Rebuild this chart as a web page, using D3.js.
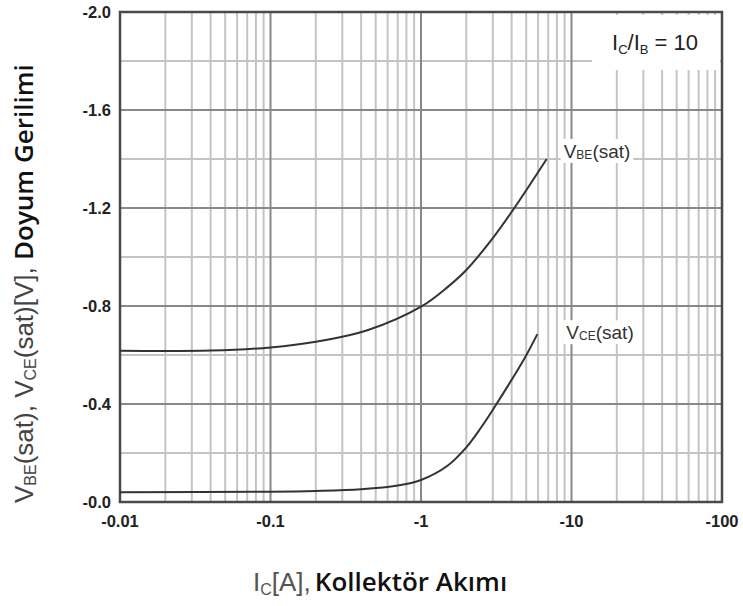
<!DOCTYPE html>
<html>
<head>
<meta charset="utf-8">
<script src="https://cdn.jsdelivr.net/npm/d3@7"></script>
<style>
  body { margin: 0; background: #fff; }
  svg { display: block; }
  .tick-label { font-family: "Liberation Sans", Arial, sans-serif; font-weight: bold; font-size: 16.5px; fill: #222; }
</style>
</head>
<body>
<svg id="chart" width="743" height="606"></svg>
<script>
// collector current Ic [A] and saturation voltages [V]
var vbeCurrent = [-0.01, -0.04, -0.1, -0.2, -0.45, -1, -1.5, -2, -3, -4.15, -6.84];
var vbeVoltage = [-0.617, -0.618, -0.631, -0.654, -0.703, -0.797, -0.877, -0.947, -1.077, -1.198, -1.4];
var vceCurrent = [-0.01, -0.1, -0.2, -0.4, -0.7, -1, -1.5, -2, -2.5, -3.1, -4.91, -5.93];
var vceVoltage = [-0.04, -0.042, -0.045, -0.052, -0.067, -0.09, -0.148, -0.223, -0.303, -0.39, -0.59, -0.685];

var xMajorTicks = [-0.01, -0.1, -1, -10, -100];
var xTickLabels = ["-0.01", "-0.1", "-1", "-10", "-100"];
var yMajorTicks = [0, -0.4, -0.8, -1.2, -1.6, -2.0];
var yTickLabels = ["-0.0", "-0.4", "-0.8", "-1.2", "-1.6", "-2.0"];
var yMinorTicks = [-0.2, -0.6, -1.0, -1.4, -1.8];

var margin = { left: 120, right: 21, top: 12, bottom: 104 };
var width = 743, height = 606;

var svg = d3.select("#chart");

var x = d3.scaleLog().domain([-0.01, -100]).range([margin.left, width - margin.right]);
var y = d3.scaleLinear().domain([0, -2]).range([height - margin.bottom, margin.top]);

// minor x gridlines: 2..9 of each decade
var xMinorTicks = [];
xMajorTicks.slice(0, -1).forEach(function (d) {
    for (var k = 2; k <= 9; k++) xMinorTicks.push(d * k);
});

var grid = svg.append("g");

grid.selectAll("line.xminor")
    .data(xMinorTicks)
    .enter().append("line")
    .attr("x1", function (d) { return x(d); })
    .attr("x2", function (d) { return x(d); })
    .attr("y1", y.range()[0])
    .attr("y2", y.range()[1])
    .attr("stroke", "#c4c4c4")
    .attr("stroke-width", 2);

grid.selectAll("line.yminor")
    .data(yMinorTicks)
    .enter().append("line")
    .attr("x1", x.range()[0])
    .attr("x2", x.range()[1])
    .attr("y1", function (d) { return y(d); })
    .attr("y2", function (d) { return y(d); })
    .attr("stroke", "#c4c4c4")
    .attr("stroke-width", 2);

grid.selectAll("line.xmajor")
    .data(xMajorTicks)
    .enter().append("line")
    .attr("x1", function (d) { return x(d); })
    .attr("x2", function (d) { return x(d); })
    .attr("y1", y.range()[0])
    .attr("y2", y.range()[1])
    .attr("stroke", "#888")
    .attr("stroke-width", 2);

grid.selectAll("line.ymajor")
    .data(yMajorTicks)
    .enter().append("line")
    .attr("x1", x.range()[0])
    .attr("x2", x.range()[1])
    .attr("y1", function (d) { return y(d); })
    .attr("y2", function (d) { return y(d); })
    .attr("stroke", "#888")
    .attr("stroke-width", 2);

// white box behind the Ic/Ib note
svg.append("rect")
    .attr("x", 592)
    .attr("y", margin.top + 3)
    .attr("width", x.range()[1] - 592 - 2)
    .attr("height", 55)
    .attr("fill", "#fff");

// frame
svg.append("rect")
    .attr("x", x.range()[0])
    .attr("y", y.range()[1])
    .attr("width", x.range()[1] - x.range()[0])
    .attr("height", y.range()[0] - y.range()[1])
    .attr("fill", "none")
    .attr("stroke", "#4a4a4a")
    .attr("stroke-width", 2.5);

// curves
var line = d3.line()
    .x(function (d) { return x(d[0]); })
    .y(function (d) { return y(d[1]); })
    .curve(d3.curveCatmullRom.alpha(0.5));

var vbeData = d3.zip(vbeCurrent, vbeVoltage);
var vceData = d3.zip(vceCurrent, vceVoltage);

[vbeData, vceData].forEach(function (data) {
    svg.append("path")
        .attr("d", line(data))
        .attr("fill", "none")
        .attr("stroke", "#333")
        .attr("stroke-width", 2);
});

// curve labels with white background
function curveLabel(px, py, sub) {
    var g = svg.append("g");
    var bg = g.append("rect").attr("fill", "#fff");
    var t = g.append("text")
        .attr("x", px)
        .attr("y", py)
        .style("font-family", "'Liberation Sans', Arial, sans-serif")
        .style("font-size", "19px")
        .style("fill", "#333");
    t.append("tspan").text("V");
    t.append("tspan").attr("dy", 1).style("font-size", "12px").text(sub);
    t.append("tspan").attr("dy", -1).text("(sat)");
    var b = t.node().getBBox();
    bg.attr("x", b.x - 3).attr("y", b.y - 2).attr("width", b.width + 6).attr("height", b.height + 3);
}

var vbeEnd = vbeData[vbeData.length - 1];
var vceEnd = vceData[vceData.length - 1];
curveLabel(x(vbeEnd[0]) + 17, y(vbeEnd[1]) - 1, "BE");
curveLabel(x(vceEnd[0]) + 29, y(vceEnd[1]) + 5, "CE");

// tick labels
svg.selectAll("text.ytick")
    .data(yMajorTicks)
    .enter().append("text")
    .attr("class", "tick-label")
    .attr("x", x.range()[0] - 9)
    .attr("y", function (d) { return y(d) + 5.5; })
    .attr("text-anchor", "end")
    .text(function (d, i) { return yTickLabels[i]; });

svg.selectAll("text.xtick")
    .data(xMajorTicks)
    .enter().append("text")
    .attr("class", "tick-label")
    .attr("x", function (d) { return x(d); })
    .attr("y", y.range()[0] + 25)
    .attr("text-anchor", "middle")
    .text(function (d, i) { return xTickLabels[i]; });

// Ic/Ib note
var note = svg.append("text")
    .attr("x", 612)
    .attr("y", 50)
    .style("font-family", "'Liberation Sans', Arial, sans-serif")
    .style("font-size", "22px")
    .style("fill", "#222");
note.append("tspan").text("I");
note.append("tspan").attr("dy", 4).style("font-size", "13px").text("C");
note.append("tspan").attr("dy", -4).text("/I");
note.append("tspan").attr("dy", 4).style("font-size", "13px").text("B");
note.append("tspan").attr("dy", -4).text(" = 10");

// x axis title
var sans = "'Liberation Sans', Arial, sans-serif";
var xt = svg.append("text")
    .attr("x", 253)
    .attr("y", 591)
    .style("font-size", "26px");
xt.append("tspan").style("font-family", sans).style("fill", "#555").text("I");
xt.append("tspan").attr("dy", 4).style("font-family", sans).style("font-size", "16px").style("fill", "#555").text("C");
xt.append("tspan").attr("dy", -4).style("font-family", sans).style("fill", "#555").text("[A],");
xt.append("tspan").attr("dx", 4).style("font-family", "'Open Sans', sans-serif").style("font-weight", 600).style("fill", "#111").text("Kollektör Akımı");

// y axis title
var yt = svg.append("text")
    .attr("transform", "rotate(-90)")
    .attr("x", -503)
    .attr("y", 33)
    .style("font-size", "26px");
yt.append("tspan").style("font-family", sans).style("fill", "#444").text("V");
yt.append("tspan").attr("dy", 3).style("font-family", sans).style("font-size", "16px").style("fill", "#444").text("BE");
yt.append("tspan").attr("dy", -3).style("font-family", sans).style("fill", "#444").text("(sat),  V");
yt.append("tspan").attr("dy", 3).style("font-family", sans).style("font-size", "16px").style("fill", "#444").text("CE");
yt.append("tspan").attr("dy", -3).style("font-family", sans).style("fill", "#444").text("(sat)[V], ");
yt.append("tspan").style("font-family", "'Open Sans', sans-serif").style("font-weight", 600).style("fill", "#111").text("Doyum Gerilimi");
</script>
</body>
</html>
